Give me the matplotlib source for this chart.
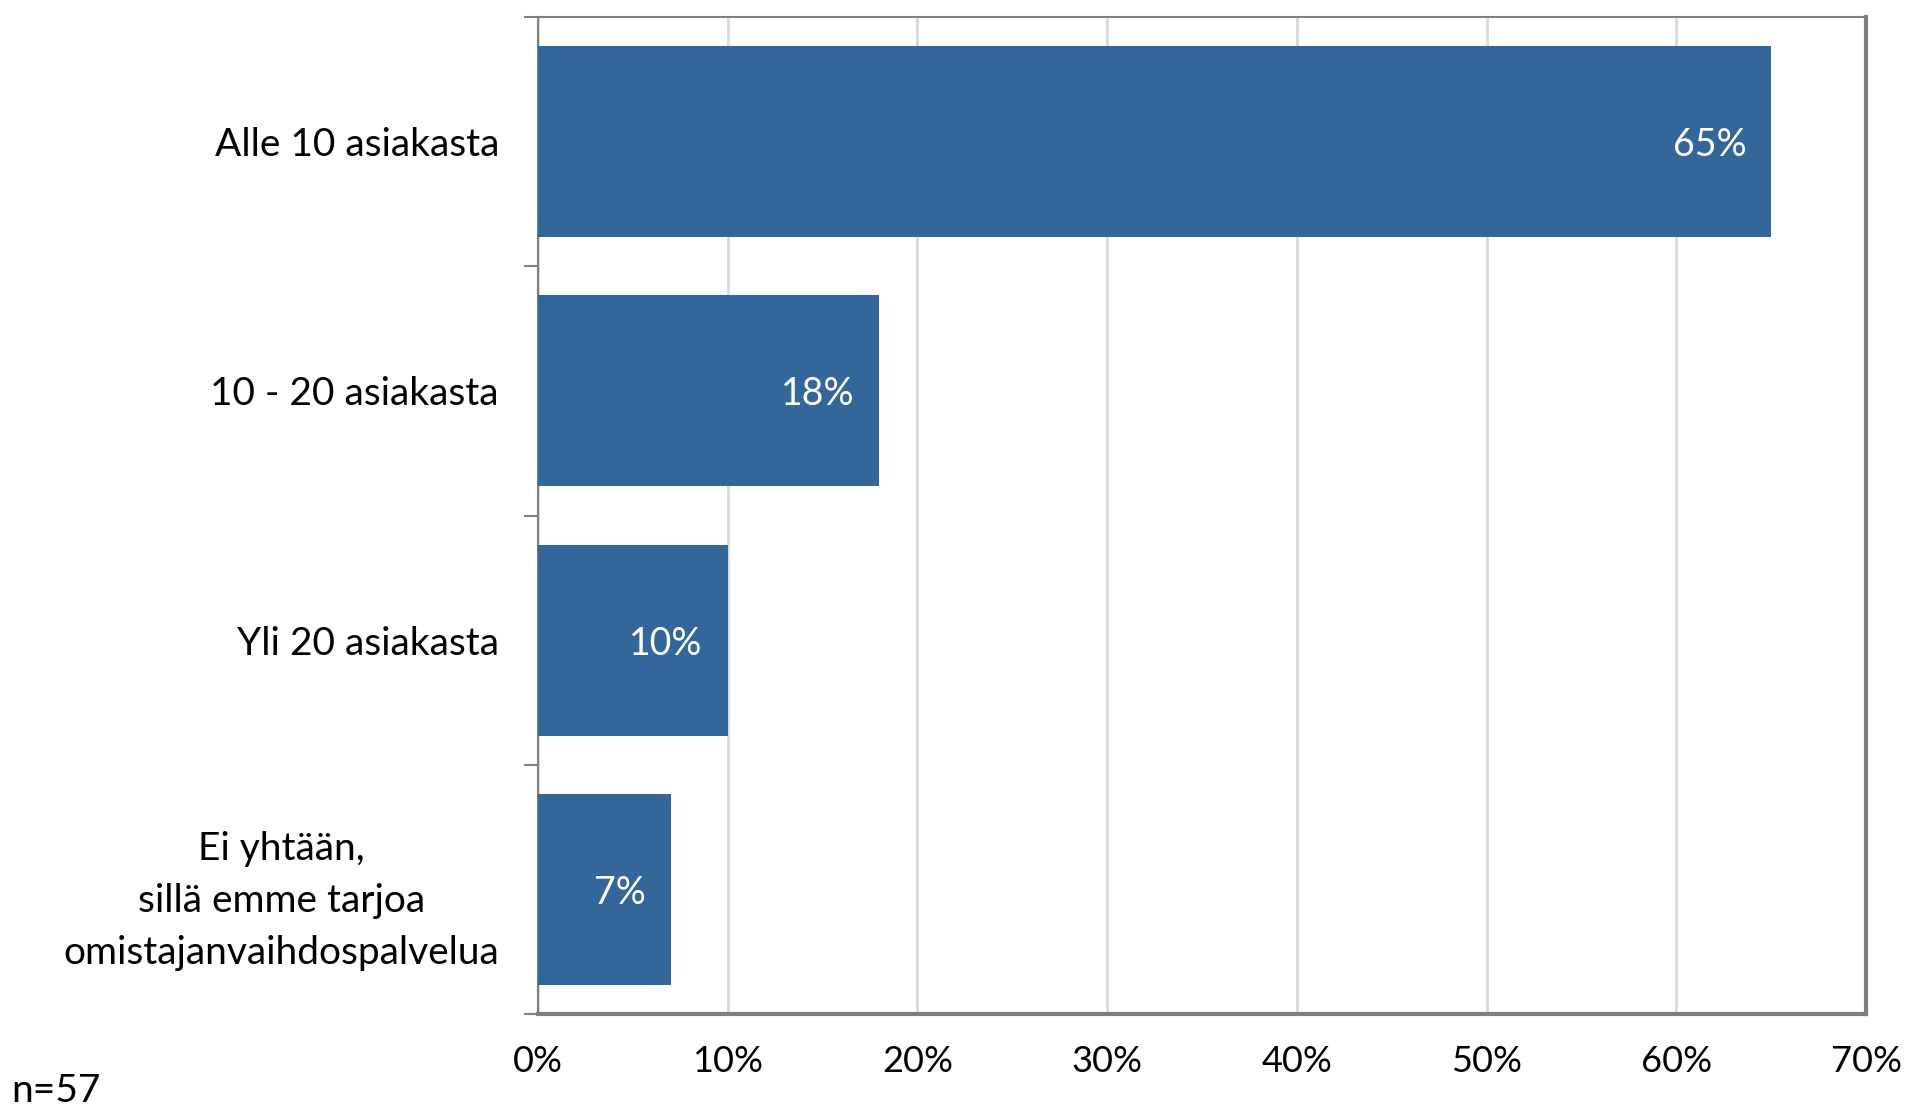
import numpy as np
import matplotlib.pyplot as plt
from matplotlib.ticker import FixedLocator, PercentFormatter

# Data
categories = ['Alle 10 asiakasta', '10 - 20 asiakasta', 'Yli 20 asiakasta',
              'Ei yhtään,\nsillä emme tarjoa\nomistajanvaihdospalvelua']
values = [65, 18, 10, 7]
x_ticks = [0, 10, 20, 30, 40, 50, 60, 70]
note = 'n=57'

plt.rcParams['font.family'] = ['Lato', 'DejaVu Sans']

fig = plt.figure(figsize=(19.14, 11.11), dpi=100)
ax = fig.add_axes([0.281, 0.087, 0.694, 0.898])

y = np.arange(len(categories))
bars = ax.barh(y, values, height=0.765, color='#336699', zorder=3)

for b, v in zip(bars, values):
    ax.annotate(f'{v}%', (b.get_width(), b.get_y() + b.get_height() / 2),
                xytext=(-18, 0), textcoords='offset points',
                ha='right', va='center_baseline', color='white', fontsize=27)

ax.set_xlim(0, 70)
ax.set_ylim(len(categories) - 0.5, -0.5)
ax.xaxis.set_major_locator(FixedLocator(x_ticks))
ax.xaxis.set_major_formatter(PercentFormatter(decimals=0))
ax.grid(axis='x', color='#d9d9d9', linewidth=2, zorder=0)

# category labels centred on bars, tick marks at category borders
ax.set_yticks(y)
ax.set_yticklabels(categories, fontsize=28, linespacing=1.55,
                   ha='right', multialignment='center')
ax.tick_params(axis='y', which='major', length=0, pad=28)
ax.set_yticks(np.arange(-0.5, len(categories)), minor=True)
ax.tick_params(axis='y', which='minor', length=10, width=1.5, color='#808080',
               direction='out')
ax.tick_params(axis='x', length=0, pad=22, labelsize=26)

for side in ['left', 'top']:
    ax.spines[side].set_color('#808080')
    ax.spines[side].set_linewidth(1.5)
for side in ['right', 'bottom']:
    ax.spines[side].set_color('#7f7f7f')
    ax.spines[side].set_linewidth(3)

fig.text(0.006, 0.002, note, fontsize=28, ha='left', va='bottom')

plt.savefig('out.png')
plt.close()
